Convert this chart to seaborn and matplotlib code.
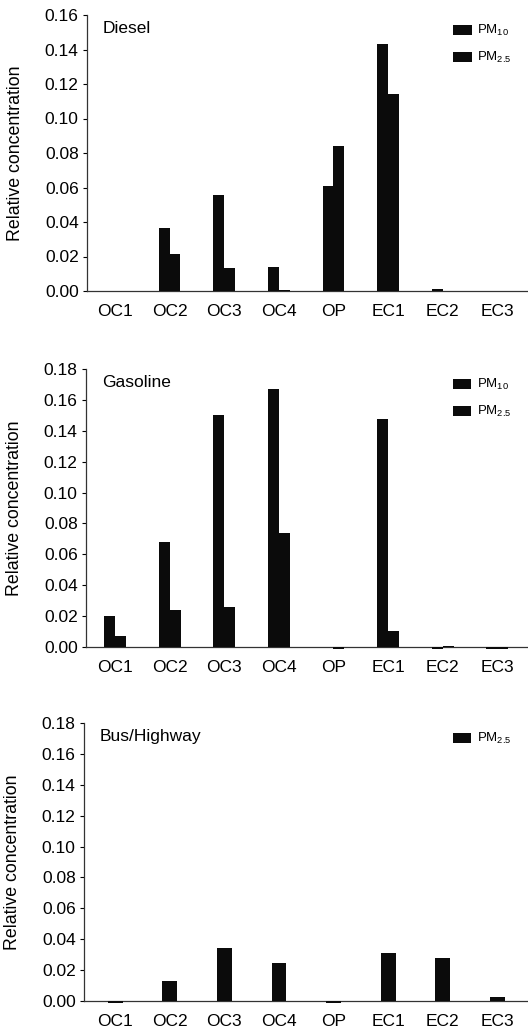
import numpy as np
import pandas as pd
import matplotlib
matplotlib.use("Agg")
import matplotlib.pyplot as plt
import seaborn as sns

categories = ["OC1", "OC2", "OC3", "OC4", "OP", "EC1", "EC2", "EC3"]

diesel_pm10 = [0.0, 0.0364, 0.0555, 0.0139, 0.0606, 0.1432, 0.0010, 0.0]
diesel_pm25 = [0.0, 0.0213, 0.0135, 0.0008, 0.0843, 0.1141, 0.0, 0.0]

gasoline_pm10 = [0.0203, 0.0683, 0.1504, 0.1668, 0.0, 0.1476, -0.0010, -0.0012]
gasoline_pm25 = [0.0069, 0.0242, 0.0257, 0.0735, -0.0012, 0.0102, 0.0006, -0.0012]

bus_pm25 = [-0.0012, 0.0128, 0.0342, 0.0244, -0.0014, 0.0312, 0.0279, 0.0024]

panel_titles = ["Diesel", "Gasoline", "Bus/Highway"]
lab10 = "PM$_{10}$"
lab25 = "PM$_{2.5}$"

sns.set_theme(style="ticks")
plt.rcParams["font.family"] = ["Liberation Sans", "DejaVu Sans"]
plt.rcParams["mathtext.fontset"] = "custom"
plt.rcParams["mathtext.rm"] = "Liberation Sans"
plt.rcParams["mathtext.default"] = "regular"
for k in ["text.color", "axes.labelcolor", "xtick.color", "ytick.color"]:
    plt.rcParams[k] = "black"

fig = plt.figure(figsize=(5.28, 10.35), dpi=100)

def make_df(series):
    rows = []
    for name, vals in series:
        for c, v in zip(categories, vals):
            rows.append({"cat": c, "val": v, "size": name})
    return pd.DataFrame(rows)

specs = [
    dict(rect=[87/528, 1-291/1035, (528-87)/528, 276/1035], ymax=0.16,
         series=[(lab10, diesel_pm10), (lab25, diesel_pm25)], width=0.4,
         xlim=(-0.51, 7.56)),
    dict(rect=[86/528, 1-647/1035, (528-86)/528, 278/1035], ymax=0.18,
         series=[(lab10, gasoline_pm10), (lab25, gasoline_pm25)], width=0.4,
         xlim=(-0.53, 7.56)),
    dict(rect=[84/528, 1-1001/1035, (528-84)/528, 278/1035], ymax=0.18,
         series=[(lab25, bus_pm25)], width=0.27,
         xlim=(-0.57, 7.56)),
]

for spec, title in zip(specs, panel_titles):
    ax = fig.add_axes(spec["rect"])
    df = make_df(spec["series"])
    n = len(spec["series"])
    sns.barplot(data=df, x="cat", y="val", hue="size", order=categories,
                palette=["#0b0b0b"] * n, width=spec["width"], linewidth=0,
                saturation=1, errorbar=None, ax=ax)
    for p in ax.patches:
        p.set_clip_on(False)
        p.set_zorder(3)
    ax.set_xlim(*spec["xlim"])
    ax.set_ylim(0, spec["ymax"])
    ticks = np.arange(0, spec["ymax"] + 1e-9, 0.02)
    ax.set_yticks(ticks)
    ax.set_yticklabels([f"{t:.2f}" for t in ticks])
    ax.set_xlabel("")
    ax.set_ylabel("Relative concentration", fontsize=12.8)
    ax.yaxis.set_label_coords(-0.142, 0.5)
    ax.tick_params(axis="y", labelsize=12.5, length=3, width=0.8, pad=3, direction="out")
    ax.tick_params(axis="x", labelsize=12.5, length=0, pad=9)
    for s in ["top", "right"]:
        ax.spines[s].set_visible(False)
    for s in ["left", "bottom"]:
        ax.spines[s].set_linewidth(0.9)
        ax.spines[s].set_color("#333333")
        ax.spines[s].set_zorder(2)
    ax.text(0.036, 0.95, title, transform=ax.transAxes, fontsize=12.5,
            ha="left", va="center")
    handles, labels = ax.get_legend_handles_labels()
    ax.legend(handles, labels, loc="upper left", bbox_to_anchor=(0.83, 0.97),
              frameon=False, fontsize=9.5, handlelength=1.4, handleheight=0.8,
              handletextpad=0.45, labelspacing=0.9, borderpad=0, borderaxespad=0)

fig.savefig("out.png", dpi=100, facecolor="white")
